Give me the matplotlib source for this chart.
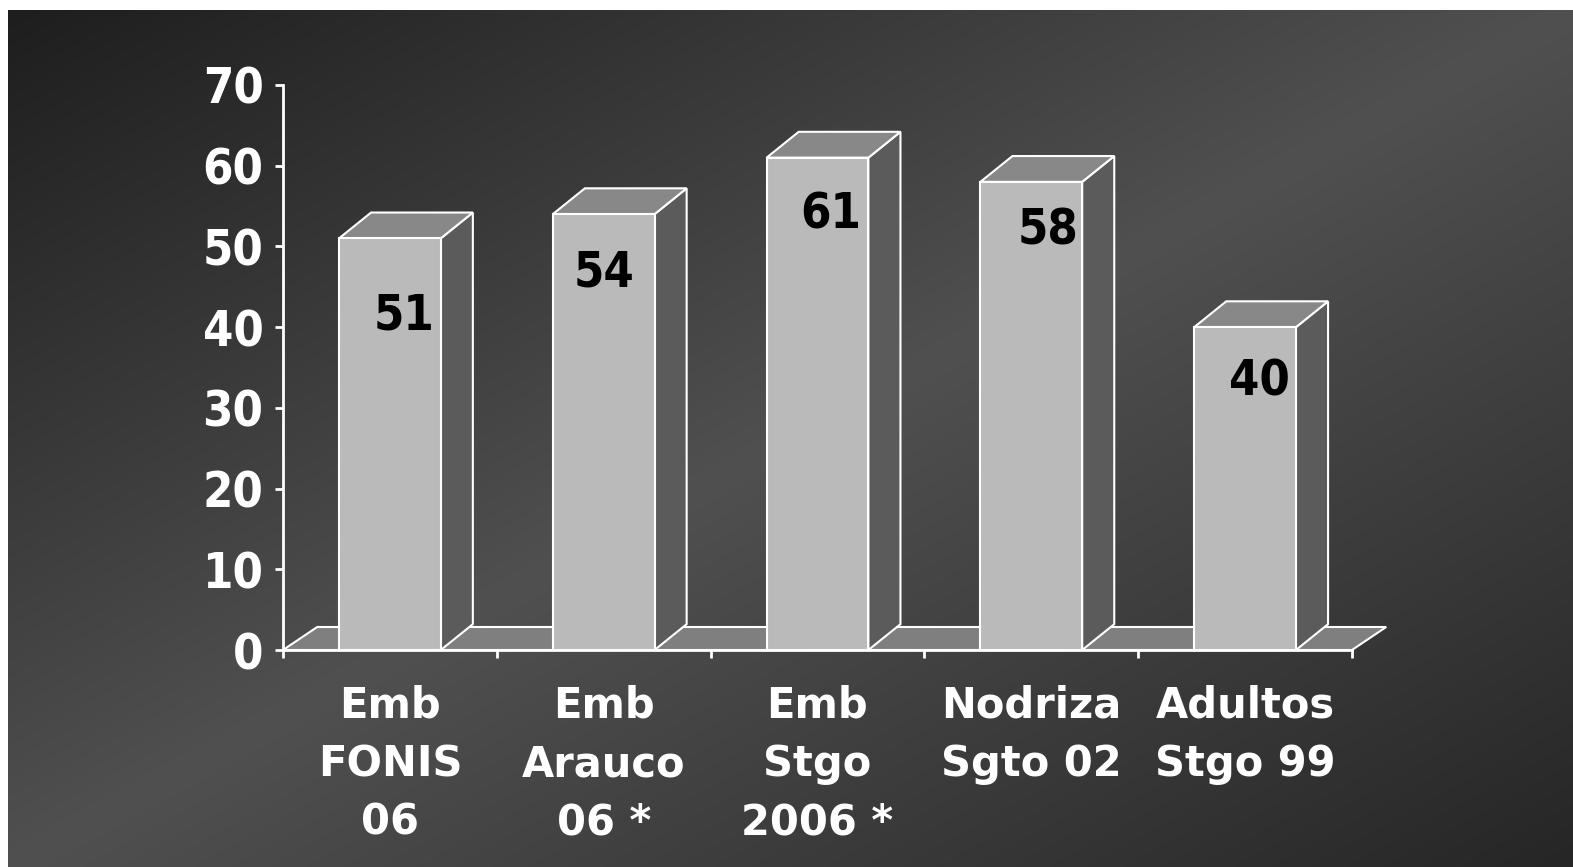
import numpy as np
import matplotlib
matplotlib.use("Agg")
import matplotlib.pyplot as plt
from matplotlib.patches import Polygon, Rectangle

# ---- data ----
categories = ["Emb\nFONIS\n06", "Emb\nArauco\n06 *", "Emb\nStgo\n2006 *",
              "Nodriza\nSgto 02", "Adultos\nStgo 99"]
values = [51, 54, 61, 58, 40]
y_ticks = [0, 10, 20, 30, 40, 50, 60, 70]

# where each value label sits relative to its bar (x in category units, y in value units)
label_dx = [0.065, 0.0, 0.06, 0.08, 0.065]
label_dy = [-9.5, -7.2, -7.1, -6.0, -6.7]

W, H = 1573, 867
fig = plt.figure(figsize=(W / 100, H / 100), dpi=100)
fig.patch.set_facecolor("white")

# ---- background: diagonal gradient, dark at two corners ----
bg = fig.add_axes([8 / W, 0, 1 - 8 / W, 1 - 10 / H])
gx = np.linspace(0, 1, 400)
gy = np.linspace(0, 1, 240)
GX, GY = np.meshgrid(gx, gy)
u = GX + GY
shade = np.where(u < 1, 30 + 50 * u, 80 - 42 * (u - 1)) / 255.0
bg.imshow(np.dstack([shade] * 3), aspect="auto", interpolation="bilinear",
          extent=[0, 1, 0, 1], origin="upper")
bg.axis("off")

# ---- chart area ----
ax = fig.add_axes([283 / W, 1 - 650 / H, 1069 / W, 565 / H])
ax.set_xlim(0, 5)
ax.set_ylim(0, 70)
ax.patch.set_alpha(0)

dx, dy = 0.15, 3.2      # depth of the bars
fdx, fdy = 0.16, 2.85   # depth of the floor
half = 0.238
edge = "white"

floor = Polygon([(0, 0), (5, 0), (5 + fdx, fdy), (fdx, fdy)], closed=True,
                facecolor="#7f7f7f", edgecolor=edge, lw=1.5, clip_on=False, zorder=2)
ax.add_patch(floor)

for i, v in enumerate(values):
    c = i + 0.5
    side = Polygon([(c + half, 0), (c + half + dx, dy), (c + half + dx, v + dy), (c + half, v)],
                   closed=True, facecolor="#5b5b5b", edgecolor=edge, lw=1.5,
                   clip_on=False, zorder=3)
    top = Polygon([(c - half, v), (c - half + dx, v + dy), (c + half + dx, v + dy), (c + half, v)],
                  closed=True, facecolor="#888888", edgecolor=edge, lw=1.5,
                  clip_on=False, zorder=3)
    front = Rectangle((c - half, 0), 2 * half, v, facecolor="#bababa",
                      edgecolor=edge, lw=1.5, clip_on=False, zorder=4)
    ax.add_patch(side)
    ax.add_patch(top)
    ax.add_patch(front)
    ax.text(c + label_dx[i], v + label_dy[i], str(v), ha="center", va="center",
            fontsize=35, fontweight="bold", color="black", zorder=5,
            family="DejaVu Sans", fontstretch="condensed")

# ---- axes ----
for s in ["top", "right"]:
    ax.spines[s].set_visible(False)
for s in ["left", "bottom"]:
    ax.spines[s].set_color("white")
    ax.spines[s].set_linewidth(2)
    ax.spines[s].set_zorder(6)

ax.set_yticks(y_ticks)
ax.set_yticklabels([str(t) for t in y_ticks])
ax.tick_params(axis="y", colors="white", length=6, width=2, pad=8, labelsize=35)
for lab in ax.get_yticklabels():
    lab.set_fontweight("bold")
    lab.set_fontstretch("condensed")

ax.set_xticks(np.arange(0, 6))
ax.set_xticklabels([])
ax.tick_params(axis="x", which="major", colors="white", length=6, width=2)
ax.set_xticks(np.arange(5) + 0.5, minor=True)
ax.set_xticklabels(categories, minor=True, fontsize=30, fontweight="bold",
                   color="white", linespacing=1.5)
ax.tick_params(axis="x", which="minor", length=0, pad=25)

fig.savefig("out.png", dpi=100)
